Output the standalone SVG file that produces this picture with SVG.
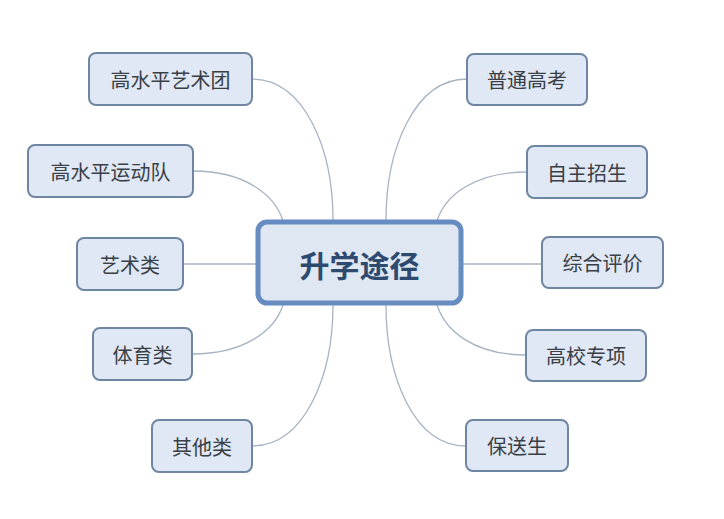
<svg xmlns="http://www.w3.org/2000/svg" width="724" height="519" viewBox="0 0 724 519">
<style>
.n rect{fill:#dfe8f4;stroke:#6f86a3;stroke-width:2}
.n text{font-family:"Noto Sans CJK SC","Noto Sans",sans-serif;font-size:20px;fill:#3a3f46;text-anchor:middle;dominant-baseline:central}
.c path{fill:none;stroke:#a7b3c2;stroke-width:1.3}
</style>
<rect width="724" height="519" fill="#ffffff"/>
<g class="c" id="connectors">
<path d="M252,79 C305,79 333,150 333,220"/>
<path d="M193,171 C245,171 275,195 283,221"/>
<path d="M183,264 L256,264"/>
<path d="M192,354 C245,354 275,330 283,305"/>
<path d="M252,446 C305,446 333,375 333,305"/>
<path d="M467,79 C414,79 386,150 386,220"/>
<path d="M527,172 C475,172 445,195 437,221"/>
<path d="M463,264 L542,264"/>
<path d="M526,355 C473,355 445,330 437,305"/>
<path d="M466,446 C413,446 386,375 386,305"/>
</g>
<g id="center">
<rect x="258" y="222" width="203" height="81" rx="9" fill="#dfe7f3" stroke="#678cc2" stroke-width="5"/>
<text x="359.5" y="264" font-family="'Noto Sans CJK SC',sans-serif" font-size="30" font-weight="bold" fill="#2e4a6f" text-anchor="middle" dominant-baseline="central">升学途径</text>
</g>
<g class="n" id="n1"><rect x="89" y="53" width="163" height="52" rx="7"/><text x="170.5" y="79">高水平艺术团</text></g>
<g class="n" id="n2"><rect x="28" y="145" width="165" height="52" rx="7"/><text x="110.5" y="171">高水平运动队</text></g>
<g class="n" id="n3"><rect x="77" y="238" width="106" height="52" rx="7"/><text x="130" y="264">艺术类</text></g>
<g class="n" id="n4"><rect x="93" y="328" width="99" height="52" rx="7"/><text x="142.5" y="354">体育类</text></g>
<g class="n" id="n5"><rect x="152" y="420" width="100" height="52" rx="7"/><text x="202" y="446">其他类</text></g>
<g class="n" id="n6"><rect x="467" y="54" width="120" height="51" rx="7"/><text x="527" y="79.5">普通高考</text></g>
<g class="n" id="n7"><rect x="527" y="146" width="120" height="52" rx="7"/><text x="587" y="172">自主招生</text></g>
<g class="n" id="n8"><rect x="542" y="237" width="121" height="51" rx="7"/><text x="602.5" y="262.5">综合评价</text></g>
<g class="n" id="n9"><rect x="526" y="330" width="120" height="51" rx="7"/><text x="586" y="355.5">高校专项</text></g>
<g class="n" id="n10"><rect x="466" y="420" width="102" height="51" rx="7"/><text x="517" y="445.5">保送生</text></g>
</svg>
